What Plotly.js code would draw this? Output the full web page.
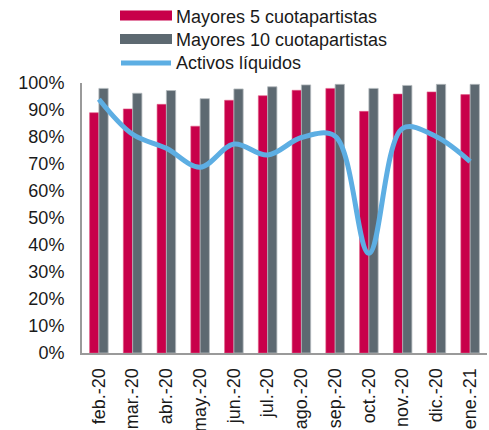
<!DOCTYPE html>
<html>
<head>
<meta charset="utf-8">
<script src="https://cdn.plot.ly/plotly-3.0.1.min.js"></script>
<style>
  html, body { margin: 0; padding: 0; background: #fff; }
  #chart { width: 489px; height: 430px; }
</style>
</head>
<body>
<div id="chart"></div>
<script>
// Data (percent)
const months = ['feb.-20', 'mar.-20', 'abr.-20', 'may.-20', 'jun.-20', 'jul.-20',
                'ago.-20', 'sep.-20', 'oct.-20', 'nov.-20', 'dic.-20', 'ene.-21'];
const top5 = [89.0, 90.4, 92.1, 84.0, 93.6, 95.3, 97.3, 98.0, 89.5, 95.9, 96.7, 95.7];
const top10 = [98.0, 96.2, 97.2, 94.2, 97.8, 98.6, 99.3, 99.5, 98.0, 99.1, 99.5, 99.5];
const liquidAssets = [94.0, 81.0, 75.8, 68.8, 77.4, 73.3, 79.8, 80.3, 36.9, 83.2, 80.1, 70.9];
const yTicks = [0, 10, 20, 30, 40, 50, 60, 70, 80, 90, 100];

const font = 'Liberation Sans, Arial, sans-serif';
const textColor = '#1a1a1a';
const colors = { top5: '#C8004A', top10: '#5D6971', liquid: '#5DAEE3' };

const traces = [
    {
        type: 'bar',
        name: 'Mayores 5 cuotapartistas',
        x: months,
        y: top5,
        marker: { color: colors.top5, line: { color: '#E05C86', width: 0.6 } }
    },
    {
        type: 'bar',
        name: 'Mayores 10 cuotapartistas',
        x: months,
        y: top10,
        marker: { color: colors.top10, line: { color: '#B4BABE', width: 0.8 } }
    },
    {
        type: 'scatter',
        mode: 'lines',
        name: 'Activos líquidos',
        x: months,
        y: liquidAssets,
        line: { color: colors.liquid, width: 5, shape: 'spline', smoothing: 1 }
    }
];

// Custom legend (wide swatches like the original), placed in paper coords
const W = 489, H = 430;
const margin = { l: 82, r: 2, t: 83, b: 77 };
const plotW = W - margin.l - margin.r;
const plotH = H - margin.t - margin.b;
const px = x => (x - margin.l) / plotW;
const py = y => (H - margin.b - y) / plotH;

const legendRows = [15.5, 39, 62];
const shapes = [];
const annotations = [];
traces.forEach((t, i) => {
    const yc = legendRows[i];
    if (t.type === 'bar') {
        shapes.push({
            type: 'rect', xref: 'paper', yref: 'paper',
            x0: px(120), x1: px(172), y0: py(yc + 5), y1: py(yc - 5),
            fillcolor: t.marker.color, line: { width: 0 }
        });
    } else {
        shapes.push({
            type: 'line', xref: 'paper', yref: 'paper',
            x0: px(121), x1: px(171), y0: py(yc + 1), y1: py(yc + 1),
            line: { color: t.line.color, width: 5 }
        });
    }
    annotations.push({
        xref: 'paper', yref: 'paper',
        x: px(174), y: py(yc + 1),
        xanchor: 'left', yanchor: 'middle',
        text: t.name, showarrow: false,
        font: { family: font, size: 18, color: textColor }
    });
});

const layout = {
    width: W,
    height: H,
    margin: margin,
    paper_bgcolor: '#fff',
    plot_bgcolor: '#fff',
    font: { family: font, size: 18, color: textColor },
    barmode: 'group',
    bargap: 0.45,
    bargroupgap: 0,
    showlegend: false,
    shapes: shapes,
    annotations: annotations,
    xaxis: {
        type: 'category',
        tickangle: -90,
        showgrid: false,
        showline: true,
        linecolor: '#9a9a9a',
        linewidth: 2,
        ticks: 'outside',
        ticklen: 6,
        tickcolor: 'rgba(0,0,0,0)',
        tickfont: { family: font, size: 18, color: textColor },
        fixedrange: true
    },
    yaxis: {
        range: [0, 100],
        tickvals: yTicks,
        ticktext: yTicks.map(v => v + '%'),
        showgrid: false,
        zeroline: false,
        showline: true,
        linecolor: '#9a9a9a',
        linewidth: 2,
        ticks: 'outside',
        ticklen: 12,
        tickcolor: 'rgba(0,0,0,0)',
        tickfont: { family: font, size: 18, color: textColor },
        fixedrange: true
    }
};

Plotly.newPlot('chart', traces, layout, { displayModeBar: false, staticPlot: true });
</script>
</body>
</html>
